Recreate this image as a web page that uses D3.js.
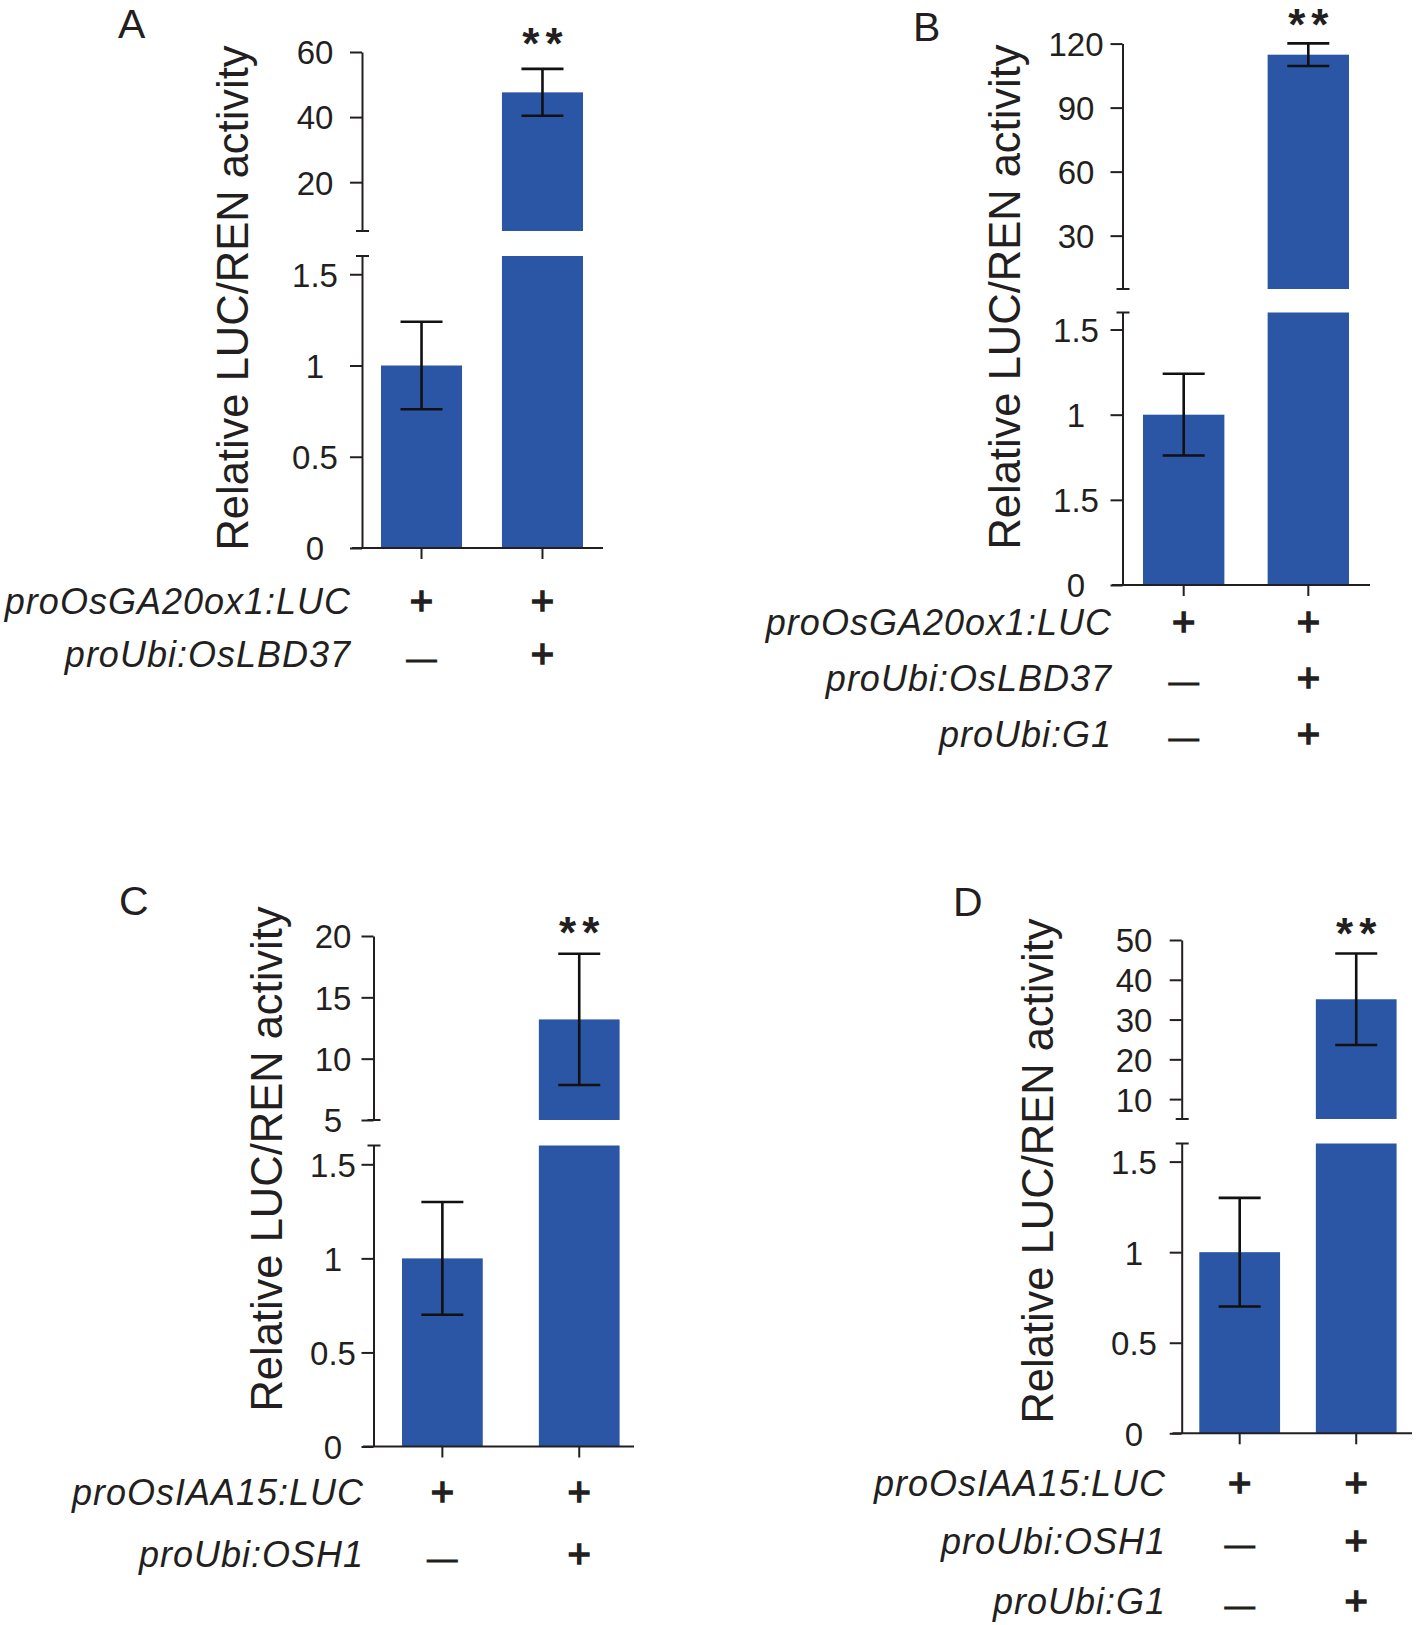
<!DOCTYPE html>
<html><head><meta charset="utf-8">
<script src="https://cdn.jsdelivr.net/npm/d3@7"></script>
<style>
html,body{margin:0;padding:0;background:#fff;}
svg{display:block;}
text{font-family:"Liberation Sans", Arial, Helvetica, sans-serif; fill:#231f20;}
</style></head><body>
<svg id="chart" width="1416" height="1625"></svg>
<script>
// ---------------- DATA ----------------
const panelLetters = ["A", "B", "C", "D"];
const groups = ["control", "treatment"];
const yTitle = "Relative LUC/REN activity";
const significance = ["", "**"];

const rowLabelsA = ["proOsGA20ox1:LUC", "proUbi:OsLBD37"];
const rowLabelsB = ["proOsGA20ox1:LUC", "proUbi:OsLBD37", "proUbi:G1"];
const rowLabelsC = ["proOsIAA15:LUC", "proUbi:OSH1"];
const rowLabelsD = ["proOsIAA15:LUC", "proUbi:OSH1", "proUbi:G1"];

const signsA = [["+", "+"], ["—", "+"]];
const signsB = [["+", "+"], ["—", "+"], ["—", "+"]];
const signsC = [["+", "+"], ["—", "+"]];
const signsD = [["+", "+"], ["—", "+"], ["—", "+"]];

const valuesA = [1.00, 47.6];
const errorsA = [0.24, 7.2];
const valuesB = [1.00, 114.8];
const errorsB = [0.24, 5.3];
const valuesC = [1.00, 13.2];
const errorsC = [0.30, 5.35];
const valuesD = [1.00, 35.1];
const errorsD = [0.30, 11.5];

const lowerDomain = [0, 1.6];
const lowerTicks = [0, 0.5, 1, 1.5];
const lowerTickLabelsA = ["0", "0.5", "1", "1.5"];
const lowerTickLabelsB = ["0", "1.5", "1", "1.5"];
const lowerTickLabelsC = ["0", "0.5", "1", "1.5"];
const lowerTickLabelsD = ["0", "0.5", "1", "1.5"];

const upperDomainA = [5, 60];
const upperTicksA = [20, 40, 60];
const upperDomainB = [5, 120];
const upperTicksB = [30, 60, 90, 120];
const upperDomainC = [5, 20];
const upperTicksC = [5, 10, 15, 20];
const upperDomainD = [5, 50];
const upperTicksD = [10, 20, 30, 40, 50];

// ---------------- STYLE / LAYOUT ----------------
const BAR = "#2b56a6";
const INK = "#231f20";

const panels = [
  { letter: panelLetters[0], rows: rowLabelsA, signs: signsA, values: valuesA, errors: errorsA,
    upperDomain: upperDomainA, upperTicks: upperTicksA, lowerLabels: lowerTickLabelsA,
    L: { axisX: 362, baseY: 548, lowerTopY: 256, upperBottomY: 231, upperTopY: 52,
         bandX0: 381, bandX1: 583, padInner: 0.33, xStart: 352, xEnd: 603,
         tickCx: 315, titleX: 248, titleCy: 298, letterX: 118, letterY: 38,
         rowRight: 351, rowBase: [614, 667], starBottom: 47 } },
  { letter: panelLetters[1], rows: rowLabelsB, signs: signsB, values: valuesB, errors: errorsB,
    upperDomain: upperDomainB, upperTicks: upperTicksB, lowerLabels: lowerTickLabelsB,
    L: { axisX: 1122.5, baseY: 585, lowerTopY: 312.5, upperBottomY: 289, upperTopY: 43.6,
         bandX0: 1143, bandX1: 1349, padInner: 0.347, xStart: 1112, xEnd: 1370,
         tickCx: 1076, titleX: 1020, titleCy: 297, letterX: 913, letterY: 41,
         rowRight: 1112, rowBase: [635, 690.5, 746.5], starBottom: 28 } },
  { letter: panelLetters[2], rows: rowLabelsC, signs: signsC, values: valuesC, errors: errorsC,
    upperDomain: upperDomainC, upperTicks: upperTicksC, lowerLabels: lowerTickLabelsC,
    L: { axisX: 373.5, baseY: 1446.5, lowerTopY: 1145.5, upperBottomY: 1120, upperTopY: 936,
         bandX0: 402, bandX1: 619.6, padInner: 0.41, xStart: 363, xEnd: 634,
         tickCx: 333, titleX: 281.5, titleCy: 1159, letterX: 119, letterY: 915,
         rowRight: 364, rowBase: [1505, 1567], starBottom: 936 } },
  { letter: panelLetters[3], rows: rowLabelsD, signs: signsD, values: valuesD, errors: errorsD,
    upperDomain: upperDomainD, upperTicks: upperTicksD, lowerLabels: lowerTickLabelsD,
    L: { axisX: 1181.7, baseY: 1433.3, lowerTopY: 1143.5, upperBottomY: 1119, upperTopY: 940,
         bandX0: 1199.3, bandX1: 1396.6, padInner: 0.307, xStart: 1172.5, xEnd: 1412,
         tickCx: 1134, titleX: 1053, titleCy: 1171, letterX: 953, letterY: 916,
         rowRight: 1166, rowBase: [1496, 1553.7, 1613.9], starBottom: 937 } }
];

const svg = d3.select("#chart");

function styleAxis(sel, L) {
  sel.select(".domain").attr("stroke", INK).attr("stroke-width", 2);
  sel.selectAll(".tick line").attr("stroke", INK).attr("stroke-width", 2);
  sel.selectAll(".tick text")
    .attr("fill", INK)
    .attr("font-size", 33)
    .attr("text-anchor", "middle")
    .attr("x", L.tickCx - L.axisX)
    .attr("dy", "0.36em");
}

function drawPanel(P) {
  const L = P.L;
  const g = svg.append("g");
  const yL = d3.scaleLinear().domain(lowerDomain).range([L.baseY, L.lowerTopY]);
  const yU = d3.scaleLinear().domain(P.upperDomain).range([L.upperBottomY, L.upperTopY]);
  const x = d3.scaleBand().domain(groups).range([L.bandX0, L.bandX1])
    .paddingInner(L.padInner).paddingOuter(0);
  const lowMax = lowerDomain[1];
  const data = P.values.map((v, i) => ({ g: groups[i], v, e: P.errors[i], s: significance[i] }));

  // lower bars
  g.selectAll(".barL").data(data).join("rect")
    .attr("x", d => x(d.g)).attr("width", x.bandwidth())
    .attr("y", d => yL(Math.min(d.v, lowMax)))
    .attr("height", d => yL(0) - yL(Math.min(d.v, lowMax)))
    .attr("fill", BAR);
  // upper bars
  g.selectAll(".barU").data(data.filter(d => d.v > lowMax)).join("rect")
    .attr("x", d => x(d.g)).attr("width", x.bandwidth())
    .attr("y", d => yU(d.v))
    .attr("height", d => yU(P.upperDomain[0]) - yU(d.v))
    .attr("fill", BAR);

  // error bars
  const capW = 42;
  data.forEach(d => {
    const sc = d.v > lowMax ? yU : yL;
    const cx = x(d.g) + x.bandwidth() / 2;
    const y1 = sc(d.v + d.e), y2 = sc(d.v - d.e);
    const eg = g.append("g").attr("stroke", "#111").attr("stroke-width", 2.6);
    eg.append("line").attr("x1", cx).attr("x2", cx).attr("y1", y1).attr("y2", y2);
    eg.append("line").attr("x1", cx - capW / 2).attr("x2", cx + capW / 2).attr("y1", y1).attr("y2", y1);
    eg.append("line").attr("x1", cx - capW / 2).attr("x2", cx + capW / 2).attr("y1", y2).attr("y2", y2);
  });

  // significance stars
  const starFs = 44;
  data.filter(d => d.s).forEach(d => {
    const cx = x(d.g) + x.bandwidth() / 2;
    g.append("text").text(d.s)
      .attr("x", cx + 3).attr("y", L.starBottom + 0.28 * starFs)
      .attr("text-anchor", "middle").attr("font-size", starFs).attr("font-weight", "bold")
      .attr("letter-spacing", 6);
  });

  // y axes
  const axU = d3.axisLeft(yU).tickValues(P.upperTicks).tickSize(12).tickSizeOuter(0)
    .tickFormat(d3.format("d"));
  g.append("g").attr("transform", `translate(${L.axisX},0)`).call(axU)
    .call(s => styleAxis(s, L));
  const axL = d3.axisLeft(yL).tickValues(lowerTicks).tickSize(12).tickSizeOuter(0)
    .tickFormat((d, i) => P.lowerLabels[i]);
  g.append("g").attr("transform", `translate(${L.axisX},0)`).call(axL)
    .call(s => styleAxis(s, L));

  // break marks
  [yU(P.upperDomain[0]), yL(lowMax)].forEach(yy => {
    g.append("line").attr("x1", L.axisX - 6).attr("x2", L.axisX + 7)
      .attr("y1", yy).attr("y2", yy).attr("stroke", INK).attr("stroke-width", 2);
  });

  // x baseline + category ticks
  g.append("line").attr("x1", L.xStart).attr("x2", L.xEnd)
    .attr("y1", L.baseY).attr("y2", L.baseY).attr("stroke", INK).attr("stroke-width", 2);
  g.selectAll(".ctick").data(groups).join("line")
    .attr("x1", d => x(d) + x.bandwidth() / 2).attr("x2", d => x(d) + x.bandwidth() / 2)
    .attr("y1", L.baseY).attr("y2", L.baseY + 11)
    .attr("stroke", INK).attr("stroke-width", 2);

  // y title
  g.append("text").text(yTitle)
    .attr("transform", `translate(${L.titleX},${L.titleCy}) rotate(-90)`)
    .attr("text-anchor", "middle").attr("font-size", 43.5);

  // panel letter
  g.append("text").text(P.letter).attr("x", L.letterX).attr("y", L.letterY)
    .attr("font-size", 41);

  // row labels and +/— signs
  P.rows.forEach((lab, r) => {
    const yb = L.rowBase[r];
    g.append("text").text(lab)
      .attr("x", L.rowRight).attr("y", yb)
      .attr("text-anchor", "end").attr("font-size", 36).attr("font-style", "italic")
      .attr("letter-spacing", 1);
    P.signs[r].forEach((s, c) => {
      const cx = x(groups[c]) + x.bandwidth() / 2;
      if (s === "+") {
        const fs = 40, center = yb - 13;
        g.append("text").text(s)
          .attr("x", cx).attr("y", center + 0.353 * fs)
          .attr("text-anchor", "middle").attr("font-size", fs)
          .attr("stroke", INK).attr("stroke-width", 1.5);
      } else {
        const fs = 30, center = yb - 6;
        g.append("text").text(s)
          .attr("x", cx).attr("y", center + 0.255 * fs)
          .attr("text-anchor", "middle").attr("font-size", fs)
          .attr("stroke", INK).attr("stroke-width", 1.2);
      }
    });
  });
}

panels.forEach(drawPanel);
</script>
</body></html>
